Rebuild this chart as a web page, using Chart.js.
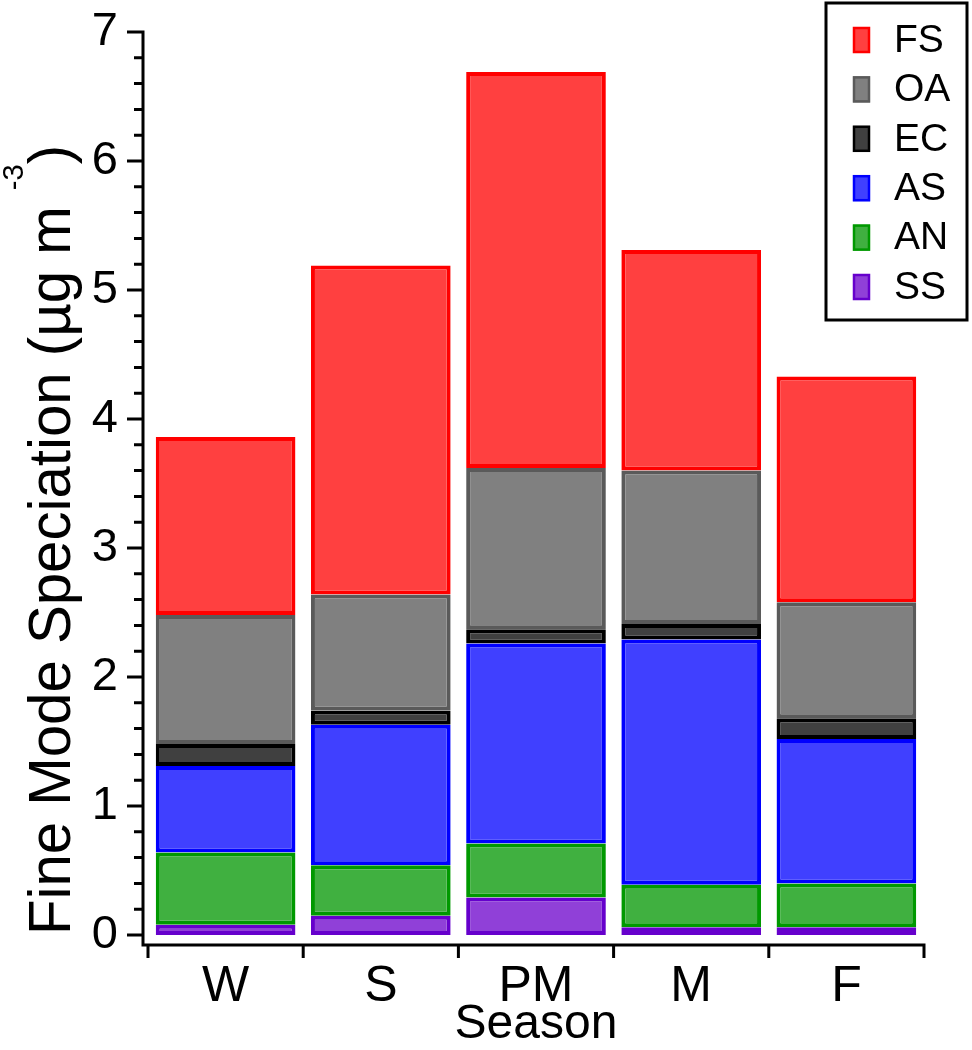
<!DOCTYPE html>
<html>
<head>
<meta charset="utf-8">
<script src="https://cdn.jsdelivr.net/npm/chart.js@4"></script>
<style>
  html, body { margin: 0; padding: 0; background: #fff; }
</style>
</head>
<body>
<canvas id="chart" width="972" height="1050"></canvas>
<script>
// Categories and series (ug m-3)
var seasons = ['W', 'S', 'PM', 'M', 'F'];
var ssValues = [0.08, 0.15, 0.29, 0.06, 0.06];
var anValues = [0.56, 0.39, 0.42, 0.33, 0.34];
var asValues = [0.67, 1.09, 1.55, 1.90, 1.12];
var ecValues = [0.17, 0.11, 0.11, 0.12, 0.16];
var oaValues = [1.00, 0.90, 1.25, 1.19, 0.90];
var fsValues = [1.38, 2.55, 3.07, 1.71, 1.75];
var yTicks = [0, 1, 2, 3, 4, 5, 6, 7];

var FONT = "'Liberation Sans', Arial, sans-serif";
Chart.defaults.font.family = FONT;
Chart.defaults.color = '#000';

// Label, values, fill, border  (bottom of the stack first)
var series = [
	['SS', ssValues, 'rgb(144,64,216)', 'rgb(102,0,204)'],
	['AN', anValues, 'rgb(64,176,64)', 'rgb(0,153,0)'],
	['AS', asValues, 'rgb(64,64,255)', 'rgb(0,0,255)'],
	['EC', ecValues, 'rgb(64,64,64)', 'rgb(0,0,0)'],
	['OA', oaValues, 'rgb(128,128,128)', 'rgb(90,90,90)'],
	['FS', fsValues, 'rgb(255,64,64)', 'rgb(255,0,0)']
];

var datasets = series.map(function (s) {
	return {
		label: s[0],
		data: s[1],
		backgroundColor: s[2],
		borderColor: s[3],
		borderWidth: 4,
		borderSkipped: false,
		categoryPercentage: 0.9,
		barPercentage: 1.0
	};
});

// Axes drawn by hand: offset x axis, major + minor ticks on y
var axesPlugin = {
	id: 'axes',
	afterDraw: function (chart) {
		var ctx = chart.ctx, x = chart.scales.x, y = chart.scales.y;
		var area = chart.chartArea;
		var axisX = area.left - 5, axisY = area.bottom + 10;
		ctx.save();
		ctx.strokeStyle = '#000';
		ctx.lineWidth = 3;
		ctx.beginPath();
		ctx.moveTo(axisX, y.getPixelForValue(7) - 1.5);
		ctx.lineTo(axisX, axisY + 1.5);
		ctx.moveTo(axisX - 1.5, axisY);
		ctx.lineTo(area.right + 1.5, axisY);
		// y ticks every 0.2, long at integers
		for (var i = 0; i <= 35; i++) {
			var py = y.getPixelForValue(i / 5);
			var len = (i % 5 === 0) ? 16 : 9;
			ctx.moveTo(axisX - len, py);
			ctx.lineTo(axisX, py);
		}
		// x ticks at category boundaries
		var half = (x.getPixelForValue(1) - x.getPixelForValue(0)) / 2;
		for (var j = 0; j <= seasons.length; j++) {
			var px = (j < seasons.length) ? x.getPixelForValue(j) - half : x.getPixelForValue(j - 1) + half;
			ctx.moveTo(px, axisY);
			ctx.lineTo(px, axisY + 13);
		}
		ctx.stroke();

		// y axis title, rotated, with superscript
		var main = 'Fine Mode Speciation (\u00b5g m', sup = '-3', close = ')';
		ctx.translate(70, 540);
		ctx.rotate(-Math.PI / 2);
		ctx.fillStyle = '#000';
		ctx.textBaseline = 'alphabetic';
		ctx.font = '60px ' + FONT;
		var wMain = ctx.measureText(main + ' ').width;
		var wClose = ctx.measureText(close).width;
		ctx.font = '30px ' + FONT;
		var wSup = ctx.measureText(sup).width;
		var total = wMain + wSup + wClose;
		ctx.scale(790 / total, 1);
		var sx = -total / 2;
		ctx.font = '60px ' + FONT;
		ctx.fillText(main, sx, 0);
		ctx.font = '30px ' + FONT;
		ctx.fillText(sup, sx + wMain, -47);
		ctx.font = '60px ' + FONT;
		ctx.fillText(close, sx + wMain + wSup, 0);
		ctx.restore();
	}
};

// Boxed legend, top right, FS first
var legendPlugin = {
	id: 'boxLegend',
	afterDraw: function (chart) {
		var ctx = chart.ctx;
		ctx.save();
		ctx.fillStyle = '#fff';
		ctx.fillRect(826, 3, 141, 317);
		ctx.strokeStyle = '#000';
		ctx.lineWidth = 3;
		ctx.strokeRect(826, 3, 141, 317);
		var ds = chart.data.datasets.slice().reverse();
		ds.forEach(function (d, i) {
			var cy = 40 + i * 49.4;
			ctx.fillStyle = d.backgroundColor;
			ctx.fillRect(853, cy - 13, 17, 26);
			ctx.strokeStyle = d.borderColor;
			ctx.lineWidth = 2.5;
			ctx.strokeRect(854, cy - 12, 15, 24);
			ctx.fillStyle = '#000';
			ctx.font = '39px ' + FONT;
			ctx.textBaseline = 'middle';
			ctx.fillText(d.label, 894, cy + 1);
		});
		ctx.restore();
	}
};

new Chart(document.getElementById('chart').getContext('2d'), {
	type: 'bar',
	data: {
		labels: seasons,
		datasets: datasets
	},
	options: {
		responsive: false,
		animation: false,
		layout: { padding: { top: 32, right: 48, left: 0, bottom: 0 } },
		plugins: {
			legend: { display: false },
			tooltip: { enabled: false }
		},
		scales: {
			x: {
				stacked: true,
				grid: { display: false },
				border: { display: false },
				ticks: { font: { size: 50 }, color: '#000', padding: 14 },
				title: { display: true, text: 'Season', font: { size: 48 }, color: '#000', padding: { top: 0, bottom: -4 } },
				afterFit: function (scale) { scale.height = 115; }
			},
			y: {
				stacked: true,
				min: 0,
				max: 7,
				afterBuildTicks: function (scale) {
					scale.ticks = yTicks.map(function (v) { return { value: v }; });
				},
				grid: { display: false },
				border: { display: false },
				ticks: { font: { size: 47 }, color: '#000', padding: 22 },
				afterFit: function (scale) {
					scale.width = 148;
					scale.paddingTop = 0;
					scale.paddingBottom = 0;
				}
			}
		}
	},
	plugins: [axesPlugin, legendPlugin]
});
</script>
</body>
</html>
